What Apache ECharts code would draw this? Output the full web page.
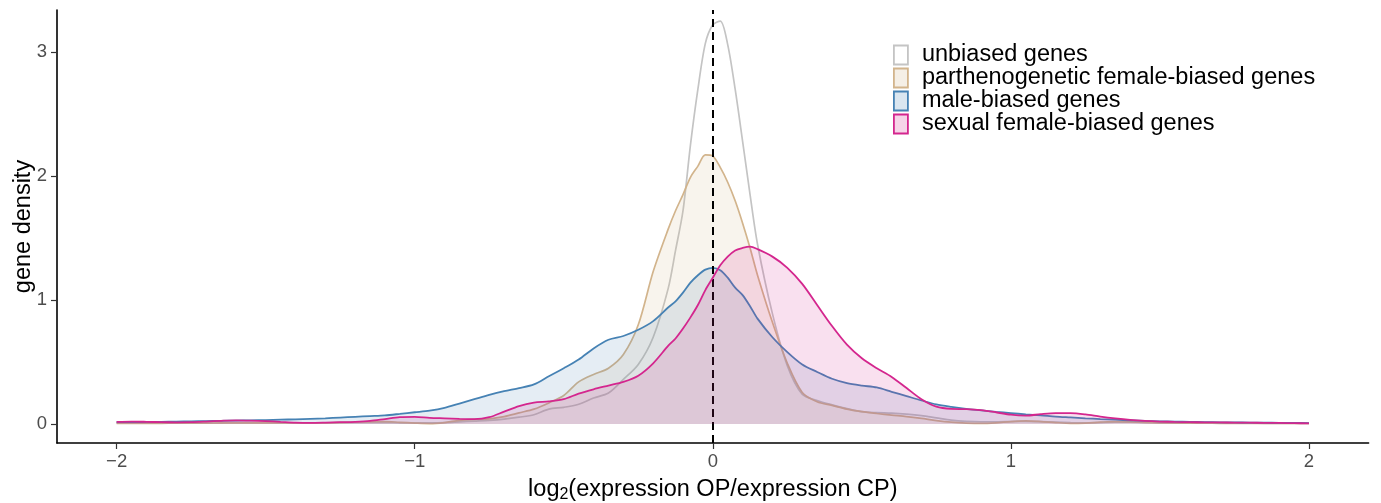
<!DOCTYPE html>
<html>
<head>
<meta charset="utf-8">
<script src="https://cdn.jsdelivr.net/npm/echarts@6/dist/echarts.min.js"></script>
<style>
html,body{margin:0;padding:0;background:#fff;}
#chart{width:1381px;height:503px;}
</style>
</head>
<body>
<div id="chart"></div>
<script>
// x positions (log2 ratio)
const xs = [
 -2.0,-1.95,-1.9,-1.85,-1.8,-1.75,-1.7,-1.65,-1.6,-1.55,
 -1.5,-1.45,-1.4,-1.35,-1.3,-1.25,-1.2,-1.15,-1.1,-1.05,
 -1.0,-0.95,-0.9,-0.85,-0.8,-0.75,-0.7,-0.65,-0.6,-0.55,
 -0.5,-0.45,-0.4,-0.35,-0.3,-0.25,-0.2,-0.15,-0.125,-0.1,
 -0.075,-0.05,-0.025,0,0.025,0.05,0.075,0.1,0.125,0.15,
 0.2,0.25,0.3,0.35,0.4,0.45,0.5,0.55,0.6,0.65,
 0.7,0.75,0.8,0.85,0.9,0.95,1.0,1.05,1.1,1.15,
 1.2,1.25,1.3,1.35,1.4,1.45,1.5,1.55,1.6,1.65,
 1.7,1.75,1.8,1.85,1.9,1.95,2.0
];
const unbiased = [
 0.008,0.008,0.008,0.007,0.007,0.007,0.008,0.008,0.009,0.009,
 0.009,0.009,0.009,0.01,0.01,0.011,0.012,0.012,0.011,0.01,
 0.01,0.01,0.012,0.018,0.024,0.03,0.04,0.055,0.075,0.12,
 0.135,0.16,0.21,0.25,0.36,0.48,0.7,1.09,1.4,1.72,
 2.25,2.7,3.07,3.22,3.25,3.06,2.7,2.28,1.85,1.45,
 0.89,0.47,0.24,0.19,0.155,0.125,0.1,0.092,0.088,0.08,
 0.068,0.05,0.032,0.022,0.018,0.018,0.02,0.022,0.02,0.016,
 0.012,0.01,0.012,0.015,0.015,0.012,0.01,0.009,0.008,0.008,
 0.007,0.007,0.007,0.006,0.006,0.006,0.006
];
const parthenogenetic = [
 0.005,0.005,0.006,0.006,0.007,0.008,0.008,0.009,0.01,0.01,
 0.01,0.01,0.01,0.01,0.01,0.012,0.015,0.018,0.02,0.014,
 0.008,0.004,0.012,0.03,0.038,0.042,0.06,0.09,0.12,0.17,
 0.23,0.34,0.4,0.45,0.56,0.8,1.23,1.57,1.72,1.85,
 1.99,2.08,2.17,2.16,2.07,1.95,1.8,1.62,1.42,1.2,
 0.82,0.49,0.255,0.18,0.15,0.12,0.1,0.085,0.072,0.06,
 0.045,0.028,0.015,0.008,0.005,0.01,0.02,0.025,0.02,0.012,
 0.006,0.008,0.015,0.02,0.018,0.014,0.01,0.008,0.007,0.007,
 0.006,0.006,0.006,0.006,0.006,0.006,0.006
];
const maleBiased = [
 0.015,0.016,0.017,0.018,0.02,0.022,0.024,0.026,0.028,0.03,
 0.032,0.035,0.038,0.042,0.046,0.052,0.058,0.064,0.07,0.082,
 0.095,0.108,0.13,0.165,0.2,0.235,0.265,0.29,0.32,0.385,
 0.45,0.52,0.61,0.68,0.71,0.76,0.83,0.94,0.99,1.06,
 1.14,1.2,1.245,1.26,1.24,1.18,1.1,1.04,0.95,0.85,
 0.7,0.58,0.48,0.42,0.365,0.33,0.31,0.295,0.26,0.225,
 0.19,0.158,0.138,0.122,0.11,0.098,0.088,0.078,0.07,0.06,
 0.053,0.046,0.04,0.035,0.03,0.025,0.022,0.02,0.018,0.016,
 0.014,0.013,0.012,0.011,0.01,0.009,0.008
];
const sexualFemale = [
 0.018,0.02,0.018,0.015,0.014,0.015,0.02,0.026,0.03,0.028,
 0.024,0.018,0.012,0.01,0.012,0.015,0.018,0.025,0.04,0.055,
 0.058,0.05,0.046,0.042,0.04,0.055,0.1,0.145,0.172,0.182,
 0.2,0.245,0.28,0.31,0.34,0.39,0.49,0.63,0.69,0.77,
 0.86,0.96,1.08,1.18,1.28,1.35,1.4,1.42,1.43,1.41,
 1.35,1.26,1.13,0.96,0.79,0.64,0.53,0.45,0.38,0.29,
 0.2,0.14,0.122,0.12,0.112,0.095,0.075,0.068,0.08,0.088,
 0.088,0.078,0.06,0.045,0.033,0.025,0.02,0.017,0.015,0.014,
 0.013,0.012,0.011,0.01,0.009,0.007,0.005
];
const seriesNames = ['unbiased genes','parthenogenetic female-biased genes','male-biased genes','sexual female-biased genes'];
const xTicks = [-2,-1,0,1,2];
const yTicks = [0,1,2,3];

const lineColors = ['#c4c4c4','#d2b48c','#4682b4','#d4268e'];
const fillColors = ['rgba(255,255,255,0.2)','rgba(210,180,140,0.22)','rgba(70,130,180,0.2)','rgba(212,38,142,0.2)'];
const seriesData = [unbiased, parthenogenetic, maleBiased, sexualFemale];

const FONT = 'Liberation Sans, Arial, sans-serif';

const series = seriesData.map((vals, i) => {
  const s = {
    name: seriesNames[i],
    type: 'line',
    data: xs.map((x, k) => [x, vals[k]]),
    smooth: 0.3,
    showSymbol: false,
    symbol: 'none',
    lineStyle: {color: lineColors[i], width: i < 2 ? 1.7 : 1.8},
    itemStyle: {color: lineColors[i]},
    areaStyle: {color: fillColors[i], origin: 0},
    z: 2 + i,
    silent: true
  };
  if (i === 3) {
    s.markLine = {
      silent: true,
      symbol: ['none','none'],
      label: {show: false},
      lineStyle: {color: '#000', type: [8,5], width: 2},
      data: [{xAxis: 0}],
      animation: false
    };
  }
  return s;
});

const chart = echarts.init(document.getElementById('chart'), null, {renderer: 'canvas'});
chart.setOption({
  animation: false,
  backgroundColor: '#fff',
  grid: {left: 57, right: 12.4, top: 10, bottom: 60, containLabel: false, outerBoundsMode: 'none'},
  legend: {
    orient: 'vertical',
    left: 893, top: 43,
    itemWidth: 14, itemHeight: 19, itemGap: -1,
    padding: 0,
    selectedMode: false,
    textStyle: {fontFamily: FONT, fontSize: 23.5, color: '#000', padding: [0,0,0,9]},
    data: seriesNames.map((n, i) => ({
      name: n, icon: 'rect',
      itemStyle: {color: i === 0 ? '#ffffff' : fillColors[i], borderColor: lineColors[i], borderWidth: 1.8}
    }))
  },
  xAxis: {
    type: 'value',
    min: -2.2, max: 2.2,
    name: 'log{sub|2}(expression OP/expression CP)',
    nameLocation: 'middle',
    nameGap: 34,
    nameTextStyle: {
      fontFamily: FONT, fontSize: 23.5, color: '#000', lineHeight: 26,
      rich: {sub: {fontFamily: FONT, fontSize: 16, lineHeight: 16, verticalAlign: 'bottom', color: '#000'}}
    },
    splitLine: {show: false},
    axisLine: {show: true, onZero: false, lineStyle: {color: '#000', width: 1.6}},
    axisTick: {show: true, length: 6, lineStyle: {color: '#333', width: 1.2}, customValues: xTicks},
    axisLabel: {
      customValues: xTicks,
      fontFamily: FONT, fontSize: 18.5, color: '#4d4d4d', margin: 9,
      formatter: v => String(v).replace('-', '\u2212')
    }
  },
  yAxis: {
    type: 'value',
    min: -0.153, max: 3.339,
    name: 'gene density',
    nameLocation: 'middle',
    nameGap: 21,
    nameMoveOverlap: false,
    nameTextStyle: {fontFamily: FONT, fontSize: 23.5, color: '#000'},
    splitLine: {show: false},
    axisLine: {show: true, onZero: false, lineStyle: {color: '#000', width: 1.6}},
    axisTick: {show: true, length: 6, lineStyle: {color: '#333', width: 1.2}, customValues: yTicks},
    axisLabel: {
      customValues: yTicks,
      fontFamily: FONT, fontSize: 18.5, color: '#4d4d4d', margin: 10
    }
  },
  series: series
});
</script>
</body>
</html>
